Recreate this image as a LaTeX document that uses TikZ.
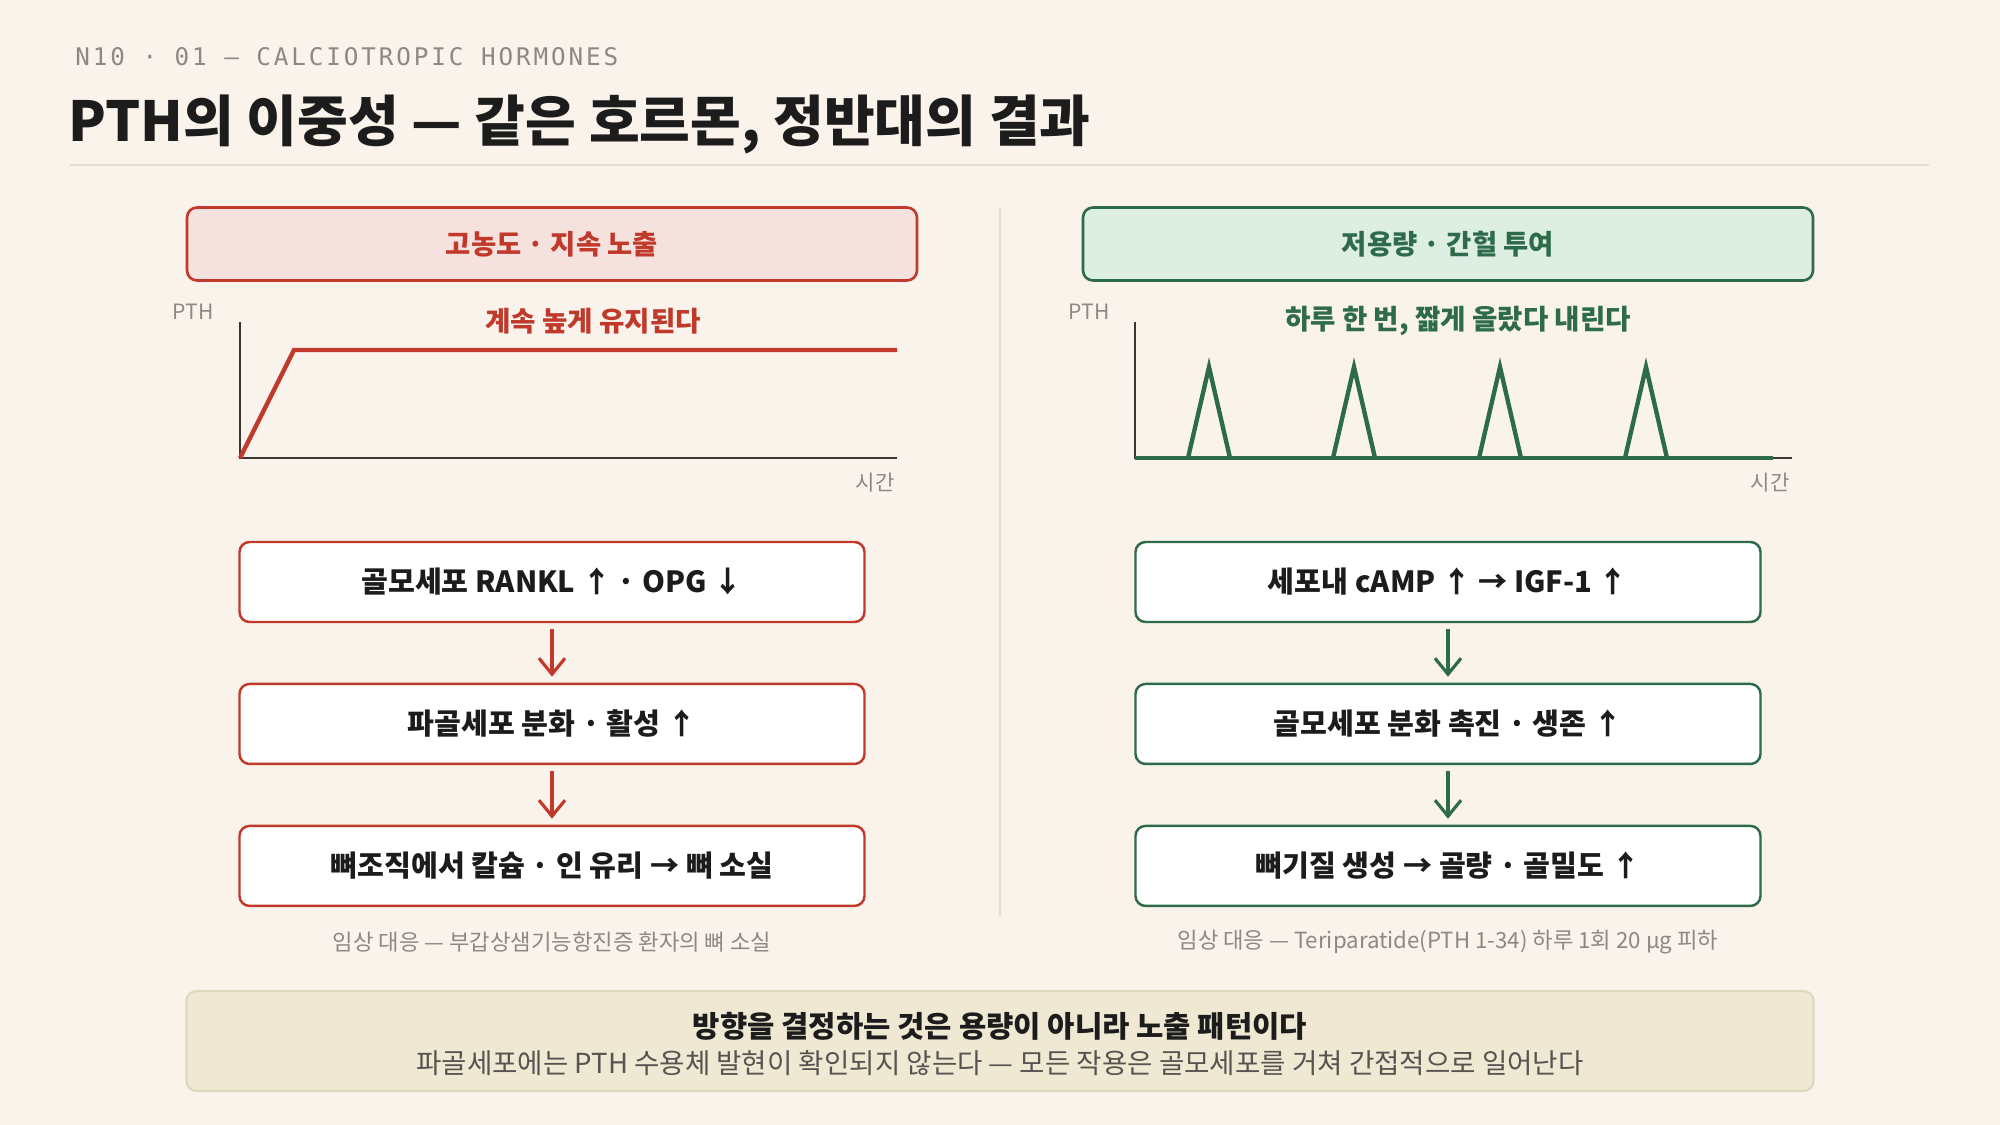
\documentclass[tikz,border=0pt]{standalone}
\usepackage{fontspec}
\setmainfont{Noto Sans CJK KR}
\newfontfamily\labelfont[LetterSpace=12]{DejaVu Sans Mono}
\usepackage{xcolor}
\usepackage{tikz}
\usetikzlibrary{arrows.meta}
\usetikzlibrary{positioning}

\definecolor{bgc}{HTML}{FAF3EB}
\definecolor{redc}{HTML}{C0392B}
\definecolor{redbg}{HTML}{F5E1DD}
\definecolor{grnc}{HTML}{2E6B4A}
\definecolor{grnbg}{HTML}{DDEEE3}
\definecolor{inkc}{HTML}{1C1C1C}
\definecolor{grayc}{HTML}{8E8882}
\definecolor{notebg}{HTML}{EFE9D4}
\definecolor{noteline}{HTML}{E0D8BE}
\definecolor{rulec}{HTML}{E4DDD2}
\definecolor{axisc}{HTML}{3B3431}

\begin{document}
\begin{tikzpicture}[x=0.1mm,y=-0.1mm,
	hdr/.style={rounded corners=1mm,line width=0.75pt,minimum width=73mm,minimum height=7.3mm,font=\fontsize{7.8pt}{9pt}\selectfont\bfseries},
	flow/.style={draw=#1,fill=white,rounded corners=1mm,line width=0.7pt,minimum width=62.5mm,minimum height=8mm,text=inkc,font=\fontsize{8.3pt}{10pt}\selectfont\bfseries},
	link/.style={draw=#1,-{Straight Barb[length=1.6mm,width=2.6mm]},line width=0.9pt,shorten >=0.6mm,shorten <=0.6mm},
	gtitle/.style={font=\fontsize{7.85pt}{9pt}\selectfont\bfseries},
	axlbl/.style={text=grayc,font=\fontsize{6pt}{7pt}\selectfont},
	capline/.style={text=grayc,font=\fontsize{6.33pt}{7pt}\selectfont},
	axis/.style={draw=axisc,line width=0.85pt},
	curve/.style={draw=#1,line width=1.25pt,line join=miter}]
	\useasboundingbox[fill=bgc] (0,0) rectangle (2000,1125);

	% heading
	\node[anchor=west,text=grayc,font=\labelfont\fontsize{6.9pt}{8pt}\selectfont] (kicker) at (63,57) {N10 · 01 — CALCIOTROPIC HORMONES};
	\node[anchor=west,text=inkc,font=\fontsize{15.7pt}{18pt}\selectfont\bfseries] (title) at (56,124) {PTH의 이중성 — 같은 호르몬, 정반대의 결과};
	\draw[rulec,line width=0.6pt] (70,165) -- (1929,165);
	\draw[rulec,line width=0.45pt] (1000,208) -- (1000,916);

	% left column
	\node[hdr,draw=redc,fill=redbg,text=redc] (hl) at (552,244) {고농도 · 지속 노출};
	\node[axlbl] (lp) at (193,312) {PTH};
	\node[axlbl] (lt) at (875,483) {시간};
	\node[gtitle,text=redc] (lg) at (593,321) {계속 높게 유지된다};
	\draw[axis] (240,322) -- (240,458) -- (897,458);
	\draw[curve=redc] (240,458) -- (294,350) -- (897,350);

	\node[flow=redc] (l1) at (552,582) {골모세포 RANKL ↑ · OPG ↓};
	\node[flow=redc,below=5.95mm of l1] (l2) {파골세포 분화 · 활성 ↑};
	\node[flow=redc,below=5.95mm of l2] (l3) {뼈조직에서 칼슘 · 인 유리 → 뼈 소실};
	\draw[link=redc] (l1) -- (l2);
	\draw[link=redc] (l2) -- (l3);
	\node[capline] (lc) at (552,942) {임상 대응 — 부갑상샘기능항진증 환자의 뼈 소실};

	% right column
	\node[hdr,draw=grnc,fill=grnbg,text=grnc] (hr) at (1448,244) {저용량 · 간헐 투여};
	\node[axlbl] (rp) at (1089,312) {PTH};
	\node[axlbl] (rt) at (1770,483) {시간};
	\node[gtitle,text=grnc] (rg) at (1458,321) {하루 한 번, 짧게 올랐다 내린다};
	\draw[axis] (1135,322) -- (1135,458) -- (1792,458);
	\draw[curve=grnc] (1135,458) -- (1773,458);
	\foreach \p in {1209,1354,1500,1646}
		\draw[curve=grnc] (\p-21,458) -- (\p,367) -- (\p+21,458);

	\node[flow=grnc] (r1) at (1448,582) {세포내 cAMP ↑ → IGF-1 ↑};
	\node[flow=grnc,below=5.95mm of r1] (r2) {골모세포 분화 촉진 · 생존 ↑};
	\node[flow=grnc,below=5.95mm of r2] (r3) {뼈기질 생성 → 골량 · 골밀도 ↑};
	\draw[link=grnc] (r1) -- (r2);
	\draw[link=grnc] (r2) -- (r3);
	\node[capline] (rc) at (1448,942) {임상 대응 — Teriparatide(PTH 1-34) 하루 1회 20 µg 피하};

	% bottom note
	\node[draw=noteline,fill=notebg,rounded corners=1mm,line width=0.6pt,minimum width=162.7mm,minimum height=10mm] (nb) at (1000,1041) {};
	\node[text=inkc,font=\fontsize{8.45pt}{10pt}\selectfont\bfseries] (n1) at (1000,1026) {방향을 결정하는 것은 용량이 아니라 노출 패턴이다};
	\node[text=axisc!85,font=\fontsize{7.85pt}{9pt}\selectfont] (n2) at (1000,1063) {파골세포에는 PTH 수용체 발현이 확인되지 않는다 — 모든 작용은 골모세포를 거쳐 간접적으로 일어난다};
\end{tikzpicture}
\end{document}
